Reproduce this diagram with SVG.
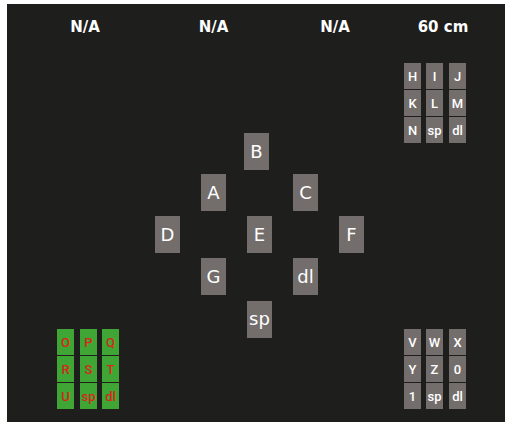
<svg xmlns="http://www.w3.org/2000/svg" width="505" height="424" viewBox="0 0 505 424">
<style>
.hdr{font-family:"DejaVu Sans",sans-serif;font-weight:bold;font-size:15px;fill:#ffffff;text-anchor:middle}
.k{fill:#736e6c}
.kg{fill:#3fa535}
.t{font-family:"DejaVu Sans",sans-serif;font-size:18px;fill:#ffffff;text-anchor:middle}
.s{font-family:Roboto,"DejaVu Sans",sans-serif;font-weight:500;font-size:13px;fill:#ffffff;text-anchor:middle}
.sr{font-family:Roboto,"DejaVu Sans",sans-serif;font-weight:500;font-size:13px;fill:#d8261c;text-anchor:middle}
</style>
<rect x="0" y="0" width="505" height="424" fill="#ffffff"/>
<rect x="7" y="4" width="498" height="418" fill="#1e1e1d"/>
<g id="headers">
<text class="hdr" x="85" y="32">N/A</text>
<text class="hdr" x="213.5" y="32">N/A</text>
<text class="hdr" x="335" y="32">N/A</text>
<text class="hdr" x="443" y="32">60 cm</text>
</g>
<g id="connectors"></g>
<g id="nB"><rect class="k" x="244" y="133" width="25" height="37"/><text class="t" x="256.5" y="158">B</text></g>
<g id="nA"><rect class="k" x="201" y="174" width="25" height="37"/><text class="t" x="213.5" y="199">A</text></g>
<g id="nC"><rect class="k" x="293" y="174" width="25" height="37"/><text class="t" x="305.5" y="199">C</text></g>
<g id="nD"><rect class="k" x="155" y="216" width="25" height="37"/><text class="t" x="167.5" y="241">D</text></g>
<g id="nE"><rect class="k" x="247" y="216" width="25" height="37"/><text class="t" x="259.5" y="241">E</text></g>
<g id="nF"><rect class="k" x="339" y="216" width="25" height="37"/><text class="t" x="351.5" y="241">F</text></g>
<g id="nG"><rect class="k" x="201" y="258" width="25" height="37"/><text class="t" x="213.5" y="283">G</text></g>
<g id="ndl"><rect class="k" x="293" y="258" width="25" height="37"/><text class="t" x="305.5" y="283">dl</text></g>
<g id="nsp"><rect class="k" x="247" y="301" width="25" height="37"/><text class="t" x="259.5" y="325">sp</text></g>

<g id="gridTR">
<g id="kH"><rect class="k" x="404" y="63" width="17" height="26"/><text class="s" x="412.5" y="81">H</text></g>
<g id="kI"><rect class="k" x="426" y="63" width="17" height="26"/><text class="s" x="434.5" y="81">I</text></g>
<g id="kJ"><rect class="k" x="449" y="63" width="17" height="26"/><text class="s" x="457.5" y="81">J</text></g>
<g id="kK"><rect class="k" x="404" y="90" width="17" height="26"/><text class="s" x="412.5" y="108">K</text></g>
<g id="kL"><rect class="k" x="426" y="90" width="17" height="26"/><text class="s" x="434.5" y="108">L</text></g>
<g id="kM"><rect class="k" x="449" y="90" width="17" height="26"/><text class="s" x="457.5" y="108">M</text></g>
<g id="kN"><rect class="k" x="404" y="117" width="17" height="26"/><text class="s" x="412.5" y="135">N</text></g>
<g id="ksp1"><rect class="k" x="426" y="117" width="17" height="26"/><text class="s" x="434.5" y="135">sp</text></g>
<g id="kdl1"><rect class="k" x="449" y="117" width="17" height="26"/><text class="s" x="457.5" y="135">dl</text></g>
</g>

<g id="gridBR">
<g id="kV"><rect class="k" x="404" y="329" width="17" height="26"/><text class="s" x="412.5" y="347">V</text></g>
<g id="kW"><rect class="k" x="426" y="329" width="17" height="26"/><text class="s" x="434.5" y="347">W</text></g>
<g id="kX"><rect class="k" x="449" y="329" width="17" height="26"/><text class="s" x="457.5" y="347">X</text></g>
<g id="kY"><rect class="k" x="404" y="356" width="17" height="26"/><text class="s" x="412.5" y="374">Y</text></g>
<g id="kZ"><rect class="k" x="426" y="356" width="17" height="26"/><text class="s" x="434.5" y="374">Z</text></g>
<g id="k0"><rect class="k" x="449" y="356" width="17" height="26"/><text class="s" x="457.5" y="374">0</text></g>
<g id="k1"><rect class="k" x="404" y="383" width="17" height="26"/><text class="s" x="412.5" y="401">1</text></g>
<g id="ksp2"><rect class="k" x="426" y="383" width="17" height="26"/><text class="s" x="434.5" y="401">sp</text></g>
<g id="kdl2"><rect class="k" x="449" y="383" width="17" height="26"/><text class="s" x="457.5" y="401">dl</text></g>
</g>

<g id="gridBL">
<g id="kO"><rect class="kg" x="57" y="329" width="17" height="26"/><text class="sr" x="65.5" y="347">O</text></g>
<g id="kP"><rect class="kg" x="80" y="329" width="17" height="26"/><text class="sr" x="88.5" y="347">P</text></g>
<g id="kQ"><rect class="kg" x="102" y="329" width="17" height="26"/><text class="sr" x="110.5" y="347">Q</text></g>
<g id="kR"><rect class="kg" x="57" y="356" width="17" height="26"/><text class="sr" x="65.5" y="374">R</text></g>
<g id="kS"><rect class="kg" x="80" y="356" width="17" height="26"/><text class="sr" x="88.5" y="374">S</text></g>
<g id="kT"><rect class="kg" x="102" y="356" width="17" height="26"/><text class="sr" x="110.5" y="374">T</text></g>
<g id="kU"><rect class="kg" x="57" y="383" width="17" height="26"/><text class="sr" x="65.5" y="401">U</text></g>
<g id="ksp3"><rect class="kg" x="80" y="383" width="17" height="26"/><text class="sr" x="88.5" y="401">sp</text></g>
<g id="kdl3"><rect class="kg" x="102" y="383" width="17" height="26"/><text class="sr" x="110.5" y="401">dl</text></g>
</g>
</svg>
